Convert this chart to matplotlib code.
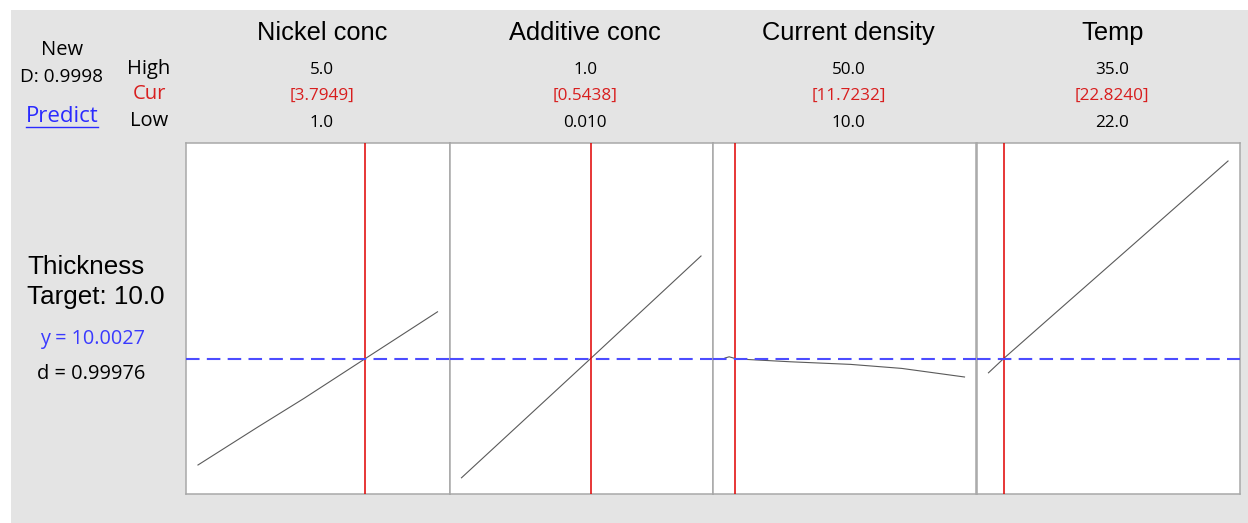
import matplotlib
matplotlib.use("Agg")
import matplotlib.pyplot as plt
from matplotlib.patches import Rectangle

W, H = 1248, 523

# factor settings read from the header
factors = ["Nickel conc", "Additive conc", "Current density", "Temp"]
high_labels = ["5.0", "1.0", "50.0", "35.0"]
cur_labels = ["[3.7949]", "[0.5438]", "[11.7232]", "[22.8240]"]
low_labels = ["1.0", "0.010", "10.0", "22.0"]
lows = [1.0, 0.01, 10.0, 22.0]
highs = [5.0, 1.0, 50.0, 35.0]
curs = [3.7949, 0.5438, 11.7232, 22.8240]

# predicted thickness along each factor (others held at current setting)
nickel_x = [1.0, 2.0, 2.77, 3.7949, 4.0, 5.0]
nickel_y = [4.68, 6.58, 8.01, 10.0027, 10.40, 12.34]
additive_x = [0.01, 0.25, 0.5438, 0.75, 1.0]
additive_y = [4.04, 6.72, 10.0027, 12.32, 15.13]
current_x = [10.0, 10.7, 11.7232, 13.5, 21.0, 31.0, 39.5, 50.0]
current_y = [10.03, 10.09, 10.0027, 9.96, 9.84, 9.71, 9.51, 9.08]
temp_x = [22.0, 22.824, 25.0, 30.0, 35.0]
temp_y = [9.29, 10.0027, 11.77, 15.82, 19.88]

curves = [(nickel_x, nickel_y), (additive_x, additive_y),
          (current_x, current_y), (temp_x, temp_y)]
y_pred = 10.0027
y_lim = (3.23, 20.78)

ui = "Open Sans"
head = "Liberation Sans"


def fx(px):
    return px / W


def fy(py):
    return 1 - py / H


fig = plt.figure(figsize=(W / 100, H / 100), dpi=100, facecolor="white")
fig.patches.append(Rectangle((fx(11), 0), 1, fy(10), transform=fig.transFigure,
                             facecolor="#e4e4e4", edgecolor="none", zorder=-1))

left, right, top, bottom = 186, 1240, 143, 494
pw = (right - left) / 4
for i in range(4):
    ax = fig.add_axes([fx(left + i * pw), fy(bottom), pw / W, (bottom - top) / H])
    lo, hi = lows[i], highs[i]
    pad = 0.05 * (hi - lo)
    ax.set_xlim(lo - pad, hi + pad)
    ax.set_ylim(*y_lim)
    ax.set_xticks([])
    ax.set_yticks([])
    for s in ax.spines.values():
        s.set_color("#a8a8a8")
        s.set_linewidth(1.1)
    xs, ys = curves[i]
    ax.plot(xs, ys, color="#5a5a5a", lw=0.8, zorder=2)
    ax.axvline(curs[i], color="#e00000", lw=1.1, zorder=3)
    ax.axhline(y_pred, color="#4c4cff", lw=1.5, dashes=(6.5, 3.5), zorder=4,
               clip_on=False if i < 3 else True)

    cx = left + (i + 0.5) * pw + 4
    fig.text(fx(cx), fy(33), factors[i], ha="center", va="center",
             fontsize=18.3, family=head)
    fig.text(fx(cx), fy(70), high_labels[i], ha="center", va="center",
             fontsize=12.3, family=ui)
    fig.text(fx(cx), fy(96), cur_labels[i], ha="center", va="center",
             fontsize=12.3, family=ui, color="#d81e1e")
    fig.text(fx(cx), fy(123), low_labels[i], ha="center", va="center",
             fontsize=12.3, family=ui)

fig.text(fx(62), fy(50), "New", ha="center", va="center", fontsize=14.5, family=ui)
fig.text(fx(61), fy(77), "D: 0.9998", ha="center", va="center", fontsize=13.7, family=ui)
fig.text(fx(62), fy(116), "Predict", ha="center", va="center",
         fontsize=16, family=ui, color="#2a2aff")
fig.add_artist(plt.Line2D([fx(26), fx(98)], [fy(127), fy(127)], color="#2a2aff", lw=1))

fig.text(fx(149), fy(69), "High", ha="center", va="center", fontsize=14.5, family=ui)
fig.text(fx(149), fy(94), "Cur", ha="center", va="center", fontsize=14.5, family=ui,
         color="#d81e1e")
fig.text(fx(149), fy(121), "Low", ha="center", va="center", fontsize=14.5, family=ui)

fig.text(fx(27), fy(267), "Thickness", ha="left", va="center", fontsize=18.7, family=head)
fig.text(fx(27), fy(297), "Target: 10.0", ha="left", va="center", fontsize=18.7, family=head)
fig.text(fx(40), fy(339), "y = 10.0027", ha="left", va="center", fontsize=14.3,
         family=ui, color="#3a3aff")
fig.text(fx(37), fy(374), "d = 0.99976", ha="left", va="center", fontsize=14.4, family=ui)

fig.savefig("out.png", dpi=100, facecolor=fig.get_facecolor())
